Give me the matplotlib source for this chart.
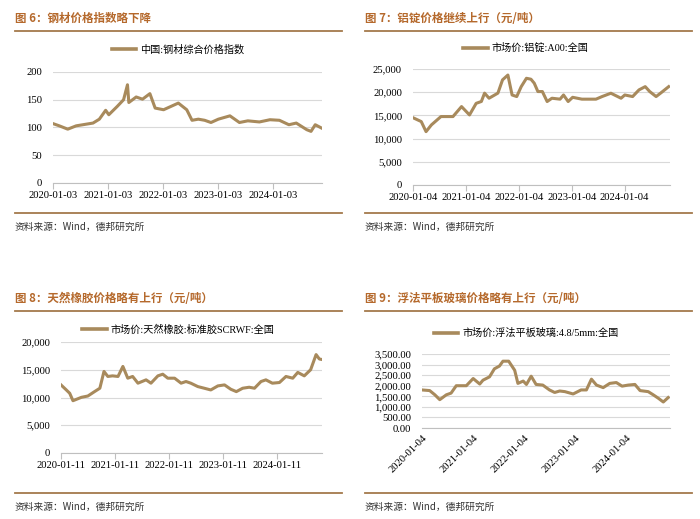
import pandas as pd
import matplotlib.pyplot as plt
import matplotlib.dates as mdates
from matplotlib.ticker import FuncFormatter

plt.rcParams['font.family'] = ['Liberation Serif', 'Noto Sans CJK SC']

# ---- 数据 ----
# 图6 钢材综合价格指数
steel_dates = ['2020-01-03', '2020-02-14', '2020-04-10', '2020-06-05', '2020-09-25', '2020-11-06',
               '2020-12-18', '2021-01-08', '2021-03-05', '2021-04-16', '2021-05-12', '2021-05-21',
               '2021-07-09', '2021-08-20', '2021-10-08', '2021-11-12', '2022-01-07', '2022-02-25',
               '2022-04-15', '2022-06-10', '2022-07-15', '2022-08-26', '2022-10-07', '2022-11-18',
               '2023-01-06', '2023-03-24', '2023-05-26', '2023-07-21', '2023-10-06', '2023-12-15',
               '2024-02-16', '2024-04-19', '2024-06-07', '2024-08-16', '2024-09-13', '2024-10-11',
               '2024-11-22']
steel_vals = [107, 103, 97, 103, 108, 115,
              131, 123, 138, 150, 177, 145,
              155, 151, 161, 135, 132, 138,
              144, 132, 113, 115, 113, 109,
              115, 121, 109, 112, 110, 114,
              113, 105, 108, 96, 93, 105,
              99]

# 图7 铝锭 A00
alu_dates = ['2020-01-04', '2020-03-01', '2020-04-03', '2020-05-10', '2020-07-15', '2020-10-06',
             '2020-12-04', '2021-01-28', '2021-03-15', '2021-04-20', '2021-05-12', '2021-06-12',
             '2021-08-12', '2021-09-13', '2021-10-20', '2021-11-18', '2021-12-20', '2022-01-20',
             '2022-02-25', '2022-03-28', '2022-04-20', '2022-05-15', '2022-06-15', '2022-07-18',
             '2022-08-20', '2022-10-15', '2022-11-08', '2022-12-10', '2023-01-10', '2023-03-15',
             '2023-06-20', '2023-08-01', '2023-10-01', '2023-12-10', '2024-01-05', '2024-02-28',
             '2024-04-12', '2024-05-25', '2024-06-25', '2024-08-08', '2024-09-08', '2024-11-03']
alu_vals = [14500, 13670, 11500, 12950, 14750, 14750,
            16900, 15100, 17600, 18000, 19800, 18700,
            19800, 22660, 23700, 19400, 19060, 21200,
            23000, 22800, 21940, 20140, 20140, 17990,
            18700, 18500, 19400, 17990, 18900, 18500,
            18500, 19060, 19780, 18700, 19400, 19060,
            20500, 21200, 20140, 19060, 19800, 21200]

# 图8 天然橡胶 SCRWF
rub_dates = ['2020-01-11', '2020-02-16', '2020-03-10', '2020-04-01', '2020-05-28', '2020-07-11',
             '2020-08-25', '2020-09-30', '2020-10-28', '2020-11-23', '2020-12-25', '2021-01-31',
             '2021-03-05', '2021-04-07', '2021-05-10', '2021-06-15', '2021-08-09', '2021-09-11',
             '2021-10-28', '2021-11-30', '2022-01-03', '2022-02-18', '2022-04-03', '2022-05-06',
             '2022-06-08', '2022-07-25', '2022-09-07', '2022-10-21', '2022-12-08', '2023-01-22',
             '2023-03-06', '2023-04-12', '2023-05-25', '2023-07-08', '2023-08-13', '2023-09-26',
             '2023-10-29', '2023-12-12', '2024-01-29', '2024-03-13', '2024-04-28', '2024-06-01',
             '2024-07-15', '2024-08-27', '2024-10-03', '2024-10-25', '2024-11-16']
rub_vals = [12270, 11360, 10760, 9420, 10030, 10270,
            11060, 11670, 14700, 13790, 13900, 13790,
            15600, 13480, 13790, 12580, 13180, 12580,
            13900, 14200, 13480, 13480, 12580, 12880,
            12580, 11970, 11670, 11360, 12090, 12270,
            11480, 11060, 11670, 11850, 11670, 12880,
            13180, 12580, 12700, 13790, 13480, 14520,
            13900, 15000, 17730, 16940, 16820]

# 图9 浮法平板玻璃 4.8/5mm
glass_dates = ['2020-01-04', '2020-02-28', '2020-04-05', '2020-05-10', '2020-06-26', '2020-07-30',
               '2020-09-05', '2020-11-16', '2021-01-04', '2021-02-20', '2021-03-15', '2021-05-01',
               '2021-06-05', '2021-07-11', '2021-08-05', '2021-09-15', '2021-10-28', '2021-11-20',
               '2021-12-28', '2022-01-20', '2022-02-23', '2022-03-30', '2022-05-17', '2022-07-04',
               '2022-08-10', '2022-09-15', '2022-10-22', '2022-12-20', '2023-02-15', '2023-03-25',
               '2023-04-30', '2023-06-05', '2023-07-23', '2023-09-08', '2023-10-25', '2023-12-05',
               '2024-01-18', '2024-03-06', '2024-04-12', '2024-06-09', '2024-07-15', '2024-08-20',
               '2024-09-25', '2024-10-30']
glass_vals = [1800, 1770, 1570, 1340, 1570, 1650,
              2000, 2000, 2340, 2080, 2260, 2420,
              2800, 2930, 3160, 3160, 2730, 2110,
              2220, 2060, 2450, 2060, 2030, 1800,
              1680, 1750, 1720, 1610, 1800, 1800,
              2310, 2030, 1910, 2110, 2150, 1980,
              2030, 2060, 1770, 1720, 1570, 1410,
              1230, 1440]

titles = ['图 6：钢材价格指数略下降', '图 7：铝锭价格继续上行（元/吨）',
          '图 8：天然橡胶价格略有上行（元/吨）', '图 9：浮法平板玻璃价格略有上行（元/吨）']
legends = ['中国:钢材综合价格指数', '市场价:铝锭:A00:全国',
           '市场价:天然橡胶:标准胶SCRWF:全国', '市场价:浮法平板玻璃:4.8/5mm:全国']
source = '资料来源：Wind，德邦研究所'

LINE = '#a88a5c'
TITLE_C = '#b5692c'
RULE_C = '#a47a4c'
GRID_C = '#d9d9d9'

W, H = 700, 519
fig = plt.figure(figsize=(7, 5.19), dpi=100)


def fx(px):
    return px / W


def fy(py):
    return 1 - py / H


def panel(x0, y0, title):
    # 标题 + 上下分隔线 + 来源
    fig.text(fx(x0 + 15), fy(y0 + 18), title, fontsize=8.3, fontweight='bold',
             color=TITLE_C, family=['Noto Sans CJK SC'], va='center')
    fig.add_artist(plt.Line2D([fx(x0 + 15), fx(x0 + 342)], [fy(y0 + 31), fy(y0 + 31)],
                              color=RULE_C, lw=1.3))
    fig.add_artist(plt.Line2D([fx(x0 + 15), fx(x0 + 342)], [fy(y0 + 213), fy(y0 + 213)],
                              color=RULE_C, lw=1.3))
    fig.text(fx(x0 + 15), fy(y0 + 227), source, fontsize=7, color='#333333',
             family=['Noto Sans CJK SC', 'DejaVu Sans'], va='center')


def make_ax(left, right, top, bottom):
    ax = fig.add_axes([fx(left), fy(bottom), fx(right - left), (bottom - top) / H])
    for s in ['top', 'right', 'left']:
        ax.spines[s].set_visible(False)
    ax.spines['bottom'].set_color('#bfbfbf')
    ax.tick_params(axis='y', length=0, labelsize=7.7, pad=8)
    ax.tick_params(axis='x', length=4, color='#bfbfbf', labelsize=7.7, pad=2)
    ax.grid(axis='y', color=GRID_C, lw=0.8)
    ax.set_axisbelow(True)
    return ax


def draw(ax, dates, vals, label, x_start, x_end, ylim, ystep, yfmt, tick_day, legend_xy, rot=0):
    d = pd.to_datetime(dates)
    ax.plot(d, vals, color=LINE, lw=2.2, label=label)
    ax.set_xlim(pd.Timestamp(x_start), pd.Timestamp(x_end))
    ax.set_ylim(*ylim)
    ax.set_yticks([ylim[0] + i * ystep for i in range(int((ylim[1] - ylim[0]) / ystep) + 1)])
    ax.yaxis.set_major_formatter(FuncFormatter(yfmt))
    ticks = [pd.Timestamp(f'{y}-01-{tick_day:02d}') for y in range(2020, 2025)]
    ax.set_xticks(ticks)
    ax.xaxis.set_major_formatter(mdates.DateFormatter('%Y-%m-%d'))
    if rot:
        for t in ax.get_xticklabels():
            t.set_rotation(rot)
            t.set_ha('right')
            t.set_rotation_mode('anchor')
    leg = ax.legend(loc='center', bbox_to_anchor=legend_xy, frameon=False,
                    handlelength=2.4, handletextpad=0.4,
                    prop={'family': ['Liberation Serif', 'Noto Sans CJK SC'], 'size': 7.3})
    for line in leg.get_lines():
        line.set_linewidth(2.6)


panel(0, 0, titles[0])
panel(350, 0, titles[1])
panel(0, 280, titles[2])
panel(350, 280, titles[3])

ax1 = make_ax(53, 322, 72, 183)
draw(ax1, steel_dates, steel_vals, legends[0], '2020-01-03', '2024-11-25', (0, 200), 50,
     lambda v, p: f'{v:.0f}', 3, (0.465, 1.2))

ax2 = make_ax(413, 670, 69, 185)
draw(ax2, alu_dates, alu_vals, legends[1], '2020-01-04', '2024-11-12', (0, 25000), 5000,
     lambda v, p: f'{v:,.0f}', 4, (0.44, 1.18))

ax3 = make_ax(61, 322, 342, 453)
draw(ax3, rub_dates, rub_vals, legends[2], '2020-01-11', '2024-11-12', (0, 20000), 5000,
     lambda v, p: f'{v:,.0f}', 11, (0.45, 1.11))

ax4 = make_ax(422, 670, 354, 428)
draw(ax4, glass_dates, glass_vals, legends[3], '2020-01-04', '2024-11-12', (0, 3500), 500,
     lambda v, p: f'{v:,.2f}', 4, (0.42, 1.28), rot=45)
ax4.tick_params(axis='x', length=0, pad=4)
ax4.tick_params(axis='y', pad=8)

fig.savefig('out.png', dpi=100, facecolor='white')
